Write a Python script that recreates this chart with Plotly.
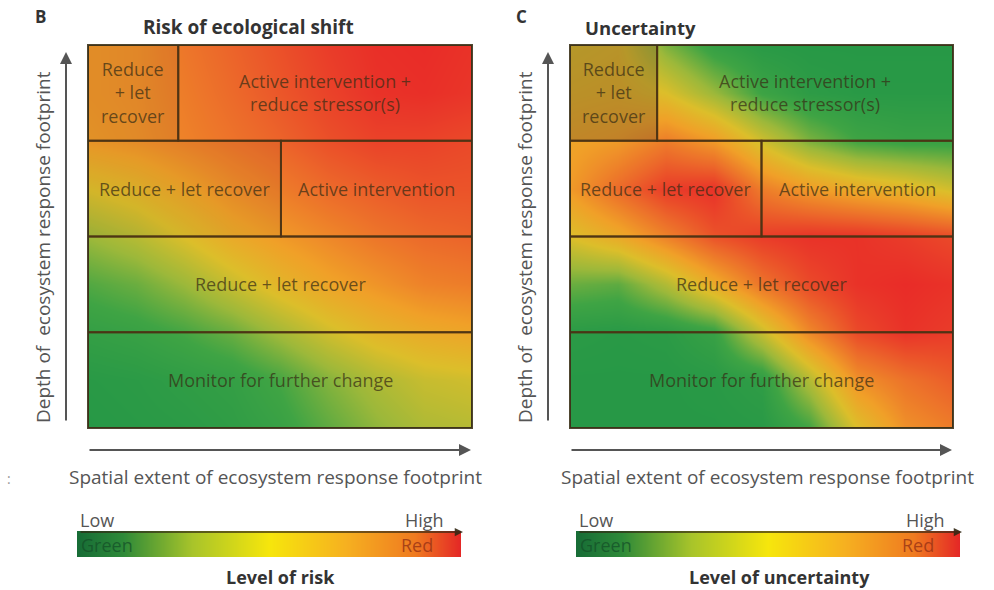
import plotly.graph_objects as go

W, H = 994, 590

# grid coordinates (box units: 4 x 4, one unit per row band)
grid_x = [0, 0.5, 1, 1.5, 2, 2.5, 3, 3.5, 4]
grid_y = [0, 0.5, 1, 1.5, 2, 2.5, 3, 3.5, 4]

# Level of risk (0 = green, 1 = red); rows bottom -> top
risk_z = [
    [0.04, 0.05, 0.06, 0.08, 0.12, 0.20, 0.28, 0.34, 0.36],
    [0.05, 0.06, 0.08, 0.10, 0.16, 0.26, 0.34, 0.40, 0.42],
    [0.10, 0.12, 0.16, 0.22, 0.32, 0.42, 0.50, 0.55, 0.58],
    [0.18, 0.22, 0.30, 0.40, 0.50, 0.58, 0.64, 0.70, 0.72],
    [0.30, 0.36, 0.45, 0.55, 0.62, 0.68, 0.74, 0.78, 0.80],
    [0.45, 0.50, 0.58, 0.66, 0.72, 0.78, 0.82, 0.85, 0.85],
    [0.62, 0.65, 0.70, 0.75, 0.80, 0.86, 0.90, 0.90, 0.88],
    [0.64, 0.66, 0.72, 0.78, 0.84, 0.90, 0.95, 0.96, 0.94],
    [0.64, 0.66, 0.74, 0.80, 0.86, 0.92, 0.96, 0.97, 0.95],
]

# Level of uncertainty; rows bottom -> top
unc_z = [
    [0.04, 0.04, 0.04, 0.04, 0.05, 0.15, 0.45, 0.65, 0.72],
    [0.04, 0.04, 0.04, 0.05, 0.08, 0.35, 0.65, 0.75, 0.82],
    [0.06, 0.05, 0.06, 0.12, 0.40, 0.68, 0.88, 0.95, 0.92],
    [0.22, 0.20, 0.35, 0.55, 0.75, 0.88, 0.95, 0.97, 0.95],
    [0.45, 0.55, 0.70, 0.85, 0.92, 0.95, 0.95, 0.92, 0.88],
    [0.62, 0.78, 0.92, 0.95, 0.72, 0.62, 0.55, 0.50, 0.42],
    [0.58, 0.62, 0.72, 0.62, 0.42, 0.25, 0.15, 0.12, 0.12],
    [0.50, 0.52, 0.45, 0.30, 0.14, 0.07, 0.05, 0.05, 0.05],
    [0.45, 0.48, 0.25, 0.10, 0.05, 0.04, 0.04, 0.04, 0.04],
]

legend_levels = [0, 0.25, 0.5, 0.75, 1.0]

# cell layout: (x0, x1, y0, y1, label, muted)
risk_cells = [
    (0, 0.94, 3, 4, "Reduce<br>+ let<br>recover", 0.10),
    (0.94, 4, 3, 4, "Active intervention +<br>reduce stressor(s)", 0),
    (0, 2.01, 2, 3, "Reduce + let recover", 0.08),
    (2.01, 4, 2, 3, "Active intervention", 0),
    (0, 4, 1, 2, "Reduce + let recover", 0),
    (0, 4, 0, 1, "Monitor for further change", 0),
]
unc_cells = [
    (0, 0.91, 3, 4, "Reduce<br>+ let<br>recover", 0.35),
    (0.91, 4, 3, 4, "Active intervention +<br>reduce stressor(s)", 0),
    (0, 2.0, 2, 3, "Reduce + let recover", 0),
    (2.0, 4, 2, 3, "Active intervention", 0),
    (0, 4, 1, 2, "Reduce + let recover", 0),
    (0, 4, 0, 1, "Monitor for further change", 0),
]

panel_scale = [
    [0.0, "#1e9447"], [0.15, "#3fa444"], [0.3, "#9cb83a"], [0.45, "#dcbe2a"],
    [0.6, "#f0a028"], [0.78, "#ec6a2a"], [1.0, "#e82228"],
]
bar_scale = [
    [0.0, "#176c36"], [0.12, "#2e8a38"], [0.3, "#a8c42a"], [0.5, "#f6e60c"],
    [0.7, "#f6b020"], [0.88, "#ef7a20"], [1.0, "#e42626"],
]

FONT = "Open Sans"


def px(x):
    return x / W


def py(y):
    return 1 - y / H


def label(x, y, text, size, color, bold=False, angle=0, xanchor="center"):
    return dict(xref="paper", yref="paper", x=px(x), y=py(y), xanchor=xanchor, yanchor="middle",
                text=("<b>%s</b>" % text) if bold else text, textangle=angle, showarrow=False,
                font=dict(family=FONT, size=size, color=color))


def arrow(x_head, y_head, dx, dy, width, color, size=1.2):
    return dict(xref="paper", yref="paper", x=px(x_head), y=py(y_head), ax=dx, ay=dy,
                xanchor="center", yanchor="middle", text="", showarrow=True, arrowhead=2,
                arrowsize=size, arrowwidth=width, arrowcolor=color)


fig = go.Figure()

fig.add_trace(go.Heatmap(x=grid_x, y=grid_y, z=risk_z, colorscale=panel_scale, zmin=0, zmax=1,
                         zsmooth="best", showscale=False, hoverinfo="skip", xaxis="x", yaxis="y"))
fig.add_trace(go.Heatmap(x=grid_x, y=grid_y, z=unc_z, colorscale=panel_scale, zmin=0, zmax=1,
                         zsmooth="best", showscale=False, hoverinfo="skip", xaxis="x2", yaxis="y2"))
fig.add_trace(go.Heatmap(x=legend_levels, y=[0, 1], z=[legend_levels, legend_levels], colorscale=bar_scale,
                         zmin=0, zmax=1, zsmooth="best", showscale=False, hoverinfo="skip",
                         xaxis="x3", yaxis="y3"))
fig.add_trace(go.Heatmap(x=legend_levels, y=[0, 1], z=[legend_levels, legend_levels], colorscale=bar_scale,
                         zmin=0, zmax=1, zsmooth="best", showscale=False, hoverinfo="skip",
                         xaxis="x4", yaxis="y4"))

hidden = dict(visible=False, showgrid=False, zeroline=False, fixedrange=True)
fig.update_layout(
    width=W, height=H, margin=dict(l=0, r=0, t=0, b=0),
    paper_bgcolor="white", plot_bgcolor="white", showlegend=False,
    xaxis=dict(domain=[px(88), px(472)], range=[0, 4], **hidden),
    yaxis=dict(domain=[py(428), py(45)], range=[0, 4], **hidden),
    xaxis2=dict(domain=[px(570), px(953)], range=[0, 4], **hidden),
    yaxis2=dict(domain=[py(428), py(45)], range=[0, 4], **hidden),
    xaxis3=dict(domain=[px(77), px(461)], range=[0, 1], **hidden),
    yaxis3=dict(domain=[py(557), py(531)], range=[0, 1], **hidden),
    xaxis4=dict(domain=[px(576), px(960)], range=[0, 1], **hidden),
    yaxis4=dict(domain=[py(557), py(531)], range=[0, 1], **hidden),
)

shapes = []
annos = []
line_col = "rgba(75,50,20,0.85)"
txt_col = "rgba(55,45,20,0.72)"

for cells, xr, yr in [(risk_cells, "x", "y"), (unc_cells, "x2", "y2")]:
    for (x0, x1, y0, y1, text, muted) in cells:
        shapes.append(dict(type="rect", xref=xr, yref=yr, x0=x0, x1=x1, y0=y0, y1=y1,
                           fillcolor="rgba(110,80,40,%.2f)" % muted,
                           line=dict(color=line_col, width=2)))
        annos.append(dict(xref=xr, yref=yr, x=(x0 + x1) / 2, y=(y0 + y1) / 2, text=text,
                          xanchor="center", yanchor="middle", showarrow=False,
                          font=dict(family=FONT, size=18, color=txt_col)))
    shapes.append(dict(type="rect", xref=xr + " domain", yref=yr + " domain", x0=0, x1=1, y0=0, y1=1,
                       line=dict(color="rgba(60,50,25,0.9)", width=2)))

# axis arrows and axis titles
for (xa, xb, ylab_x, xlab_c) in [(88, 471, 43, 275), (570, 952, 525, 767)]:
    annos.append(arrow(xa - 22, 52, 0, 370, 2, "#555"))
    annos.append(arrow(xb, 450, -(xb - xa), 0, 2, "#555"))
    annos.append(label(ylab_x, 247, "Depth of  ecosystem response footprint", 19, "#555", angle=-90))
    annos.append(label(xlab_c, 477, "Spatial extent of ecosystem response footprint", 19, "#555"))

# titles
annos += [
    label(40, 17, "B", 17, "#333", bold=True),
    label(248, 27, "Risk of ecological shift", 19, "#333", bold=True),
    label(521, 17, "C", 17, "#333", bold=True),
    label(640, 27, "Uncertainty", 18.5, "#333", bold=True),
    label(9, 478, ":", 14, "#999"),
]

# legend bars
for (bx0, bx1, hi_x, red_x, lvl_c, lvl_txt) in [
    (77, 461, 424, 417, 280, "Level of risk"),
    (576, 960, 925, 918, 779, "Level of uncertainty"),
]:
    annos.append(arrow(bx1 + 2, 532, -(bx1 - bx0), 0, 1.5, "rgba(50,40,20,0.9)", 1.1))
    annos.append(label(bx0 + 1, 520, "Low", 18, "#555", xanchor="left"))
    annos.append(label(hi_x, 520, "High", 18, "#555"))
    annos.append(label(bx0 + 2, 545, "Green", 18, "rgba(20,80,40,0.75)", xanchor="left"))
    annos.append(label(red_x, 545, "Red", 18, "rgba(150,50,20,0.8)"))
    annos.append(label(lvl_c, 577, lvl_txt, 18, "#333", bold=True))

fig.update_layout(shapes=shapes, annotations=annos)
fig.write_html("out.html", config={"displayModeBar": False},
               post_script="document.body.style.margin='0';")
